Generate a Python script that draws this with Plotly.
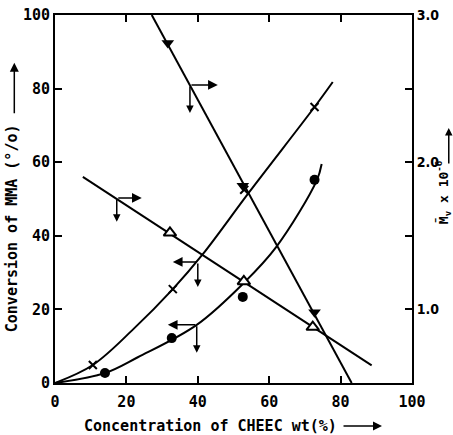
import plotly.graph_objects as go

# ---- data ----
# conversion curves (left axis, %)
cross_curve_x = [0, 10.6, 21.8, 33, 41.4, 54.5, 72.7, 77.8]
cross_curve_y = [0, 4.9, 14.5, 25.5, 35, 52, 75, 81.8]
cross_pts_x = [10.6, 33, 53, 72.7]
cross_pts_y = [4.9, 25.5, 52.5, 75]

dot_curve_x = [0, 14, 23.2, 39.7, 52.9, 62, 73.3, 74.7]
dot_curve_y = [0, 2.7, 7.0, 15.8, 27.2, 37, 55, 59.5]
dot_pts_x = [14, 32.7, 52.6, 72.7]
dot_pts_y = [2.7, 12.2, 23.4, 55.2]

# molecular weight lines (right axis, Mv x 1e-6)
tri_open_line_x = [7.8, 88.7]
tri_open_line_y = [1.90, 0.62]
tri_open_x = [32.2, 52.9, 72.2]
tri_open_y = [1.52, 1.19, 0.88]

tri_fill_line_x = [27.1, 83.1]
tri_fill_line_y = [3.0, 0.5]
tri_fill_x = [31.6, 52.6, 72.7]
tri_fill_y = [2.81, 1.84, 0.98]

x_ticks = [0, 20, 40, 60, 80, 100]
y_ticks = [0, 20, 40, 60, 80, 100]
y2_ticks = [1.0, 1.5, 2.0, 2.5, 3.0]
y2_ticktext = ["1.0", "", "2.0", "", "3.0"]

FONT = "DejaVu Sans Mono"
BLK = "black"

fig = go.Figure()
line = dict(color=BLK, width=2)

fig.add_trace(go.Scatter(x=cross_curve_x, y=cross_curve_y, mode="lines",
                         line=dict(color=BLK, width=2, shape="spline", smoothing=1)))
fig.add_trace(go.Scatter(x=cross_pts_x, y=cross_pts_y, mode="markers",
                         marker=dict(symbol="x-thin", size=8, line=dict(color=BLK, width=2))))
fig.add_trace(go.Scatter(x=dot_curve_x, y=dot_curve_y, mode="lines",
                         line=dict(color=BLK, width=2, shape="spline", smoothing=1)))
fig.add_trace(go.Scatter(x=dot_pts_x, y=dot_pts_y, mode="markers",
                         marker=dict(symbol="circle", size=10, color=BLK)))
fig.add_trace(go.Scatter(x=tri_open_line_x, y=tri_open_line_y, mode="lines", line=line, yaxis="y2"))
fig.add_trace(go.Scatter(x=tri_open_x, y=tri_open_y, mode="markers", yaxis="y2",
                         marker=dict(symbol="triangle-up", size=11, color="white",
                                     line=dict(color=BLK, width=2))))
fig.add_trace(go.Scatter(x=tri_fill_line_x, y=tri_fill_line_y, mode="lines", line=line, yaxis="y2"))
fig.add_trace(go.Scatter(x=tri_fill_x, y=tri_fill_y, mode="markers", yaxis="y2",
                         marker=dict(symbol="triangle-down", size=11, color=BLK)))

# pointer arrows (corner on curve, one horizontal, one vertical)
pointers = [
    ((37.8, 81.0), 45.6, 73.4),
    ((17.3, 50.3), 24.3, 43.8),
    ((40.0, 32.9), 33.0, 26.1),
    ((39.7, 15.8), 31.6, 8.2),
]
anns = []
for (cx, cy), hx, vy in pointers:
    anns.append(dict(x=hx, y=cy, ax=cx, ay=cy, xref="x", yref="y", axref="x", ayref="y",
                     showarrow=True, arrowhead=2, arrowsize=1.3, arrowwidth=1.5,
                     arrowcolor=BLK, text="", standoff=0, startstandoff=0))
    anns.append(dict(x=cx, y=vy, ax=cx, ay=cy, xref="x", yref="y", axref="x", ayref="y",
                     showarrow=True, arrowhead=2, arrowsize=1, arrowwidth=1.5,
                     arrowcolor=BLK, text="", standoff=0, startstandoff=0))

tfont = dict(family=FONT, size=15, color=BLK, weight="bold")
# axis titles
anns.append(dict(x=-0.12, y=0.421, xref="paper", yref="paper", textangle=-90,
                 text="Conversion of MMA (°/o)", showarrow=False, font=tfont,
                 xanchor="center", yanchor="middle"))
anns.append(dict(x=-0.114, y=0.87, xref="paper", yref="paper", text="", showarrow=True,
                 ax=0, ay=52, arrowhead=2, arrowsize=1.2, arrowwidth=1.5, arrowcolor=BLK))
anns.append(dict(x=0.436, y=-0.117, xref="paper", yref="paper",
                 text="Concentration of CHEEC wt(%)", showarrow=False, font=tfont,
                 xanchor="center", yanchor="middle"))
anns.append(dict(x=0.916, y=-0.117, xref="paper", yref="paper", text="", showarrow=True,
                 ax=-40, ay=0, arrowhead=2, arrowsize=1.2, arrowwidth=1.5, arrowcolor=BLK))
anns.append(dict(x=1.089, y=0.518, xref="paper", yref="paper", textangle=-90,
                 text="M̄<sub>v</sub> x 10<sup>-6</sup>", showarrow=False,
                 font=dict(family=FONT, size=13, color=BLK, weight="bold"),
                 xanchor="center", yanchor="middle"))
anns.append(dict(x=1.103, y=0.693, xref="paper", yref="paper", text="", showarrow=True,
                 ax=0, ay=37, arrowhead=2, arrowsize=1, arrowwidth=1.5, arrowcolor=BLK))

tickfont = dict(family=FONT, size=15, color=BLK, weight="bold")
axcommon = dict(showline=True, linecolor=BLK, linewidth=2, ticks="inside", ticklen=7,
                tickwidth=2, tickcolor=BLK, showgrid=False, zeroline=False, automargin=False)

fig.update_layout(
    width=453, height=435,
    margin=dict(l=55, r=41, t=15, b=52, autoexpand=False),
    paper_bgcolor="white", plot_bgcolor="white",
    showlegend=False,
    xaxis=dict(range=[0, 100], tickvals=x_ticks, mirror="ticks", tickfont=tickfont,
               ticklabelstandoff=4, **axcommon),
    yaxis=dict(range=[0, 100], tickvals=y_ticks, tickfont=tickfont, **axcommon),
    yaxis2=dict(range=[0.5, 3.0], overlaying="y", side="right", tickvals=y2_ticks,
                ticktext=y2_ticktext,
                tickfont=dict(family="Liberation Sans Narrow, DejaVu Sans Condensed, Liberation Sans",
                              size=14, color=BLK, weight="bold"),
                **axcommon),
    annotations=anns,
)

fig.write_html("out.html", config={"displayModeBar": False},
               post_script="document.body.style.margin='0px';")
